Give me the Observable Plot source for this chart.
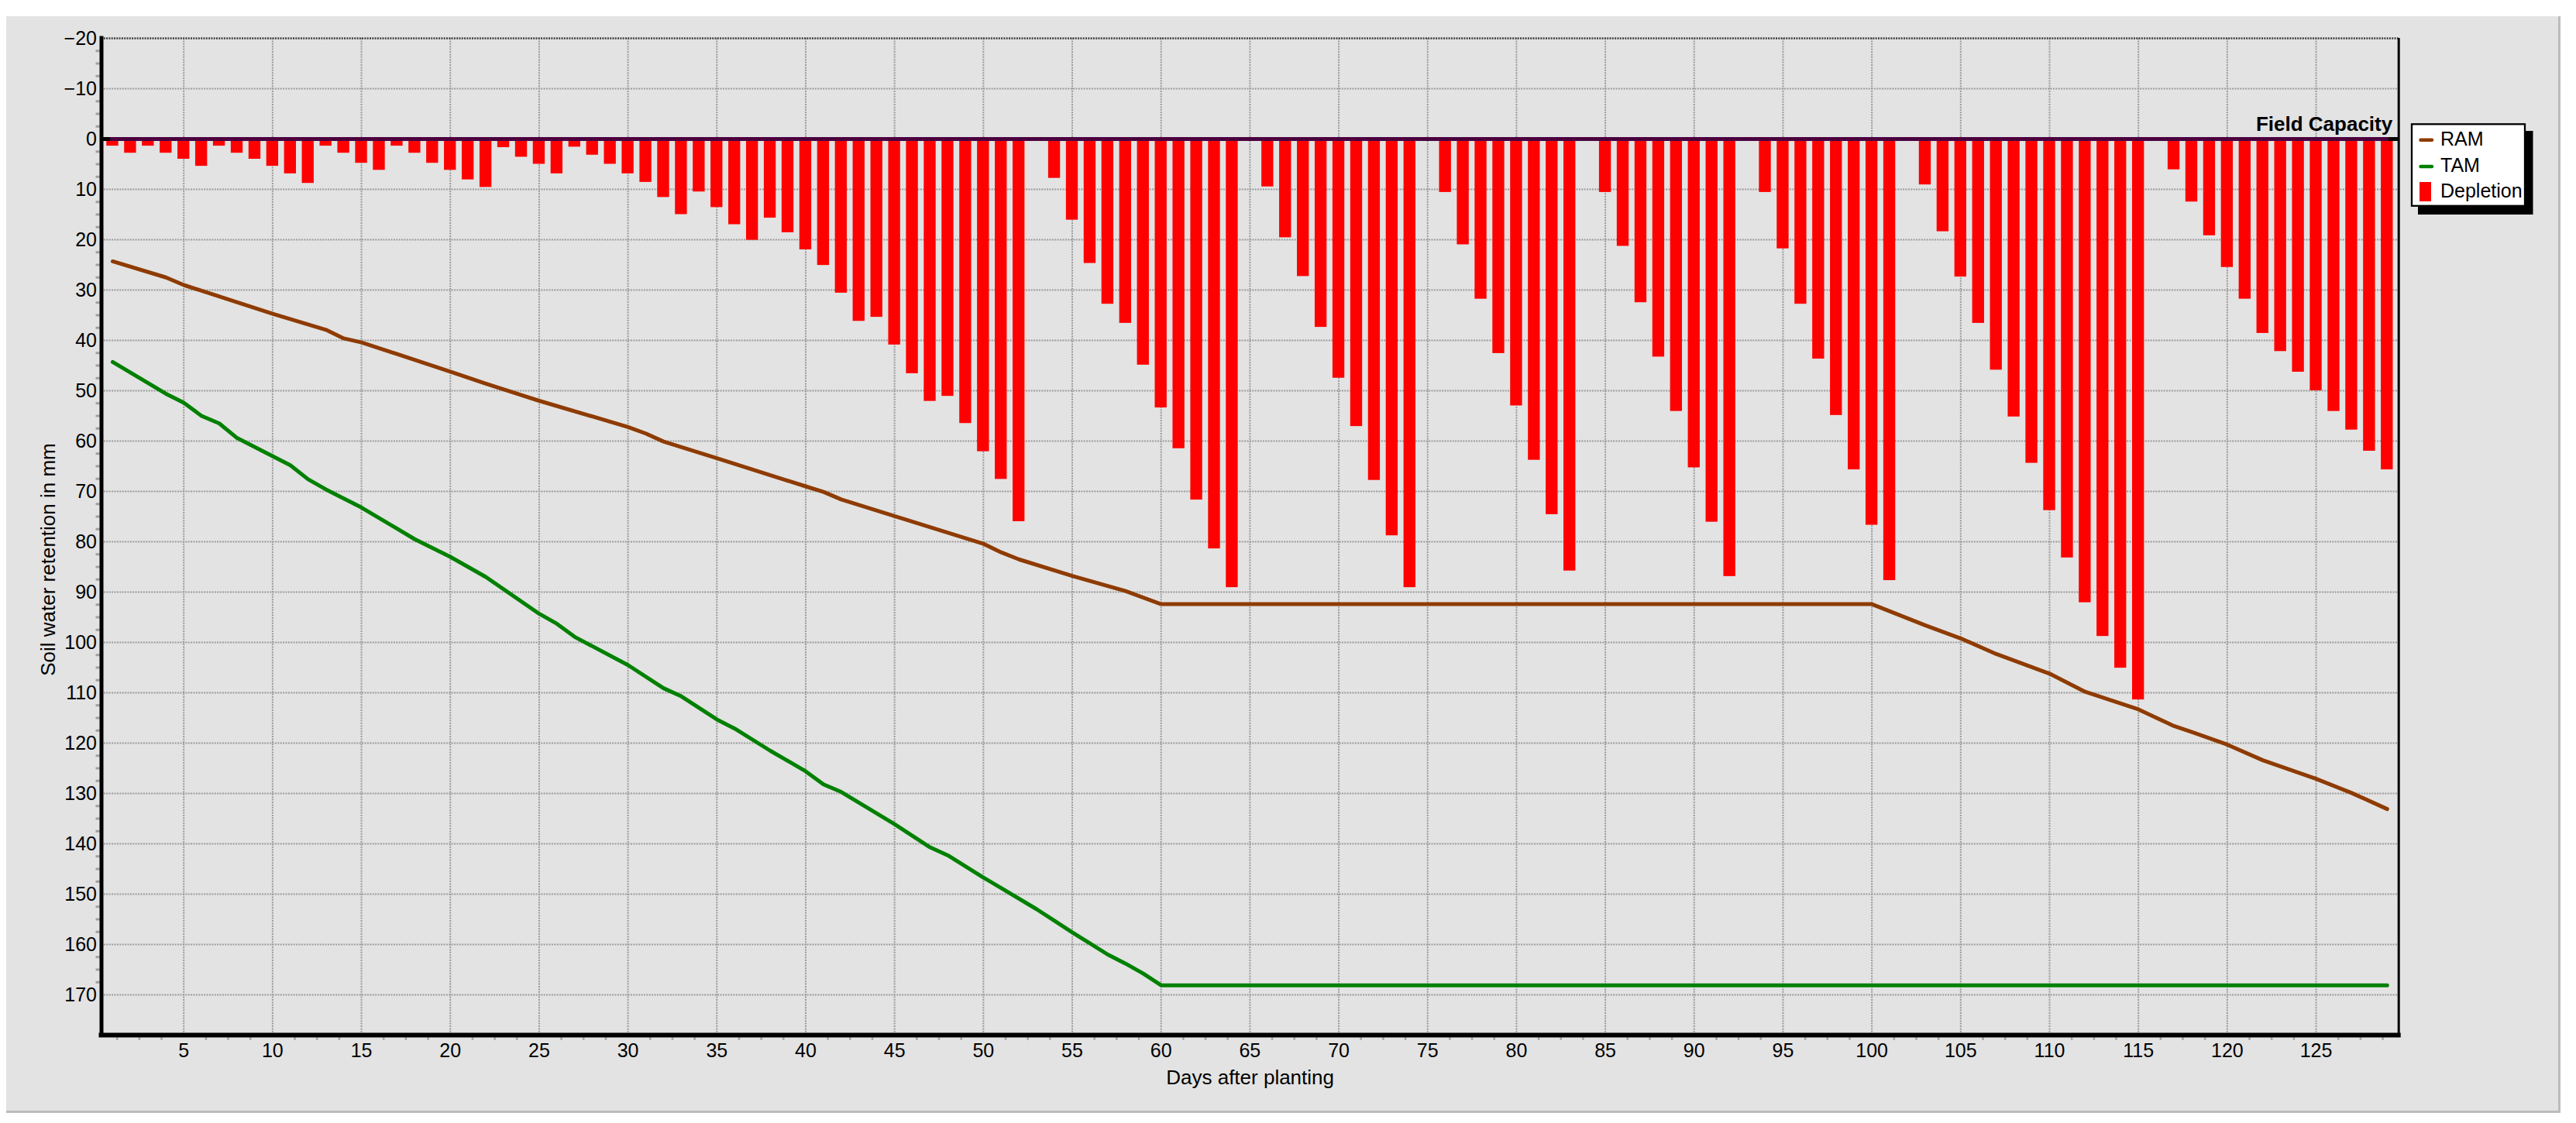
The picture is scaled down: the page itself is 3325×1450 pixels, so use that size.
<!DOCTYPE html>
<html>
<head>
<meta charset="utf-8">
<script src="https://cdn.jsdelivr.net/npm/d3@7"></script>
<script src="https://cdn.jsdelivr.net/npm/@observablehq/plot@0.6"></script>
<style>
  html, body { margin: 0; padding: 0; background: #ffffff; }
  #wrap { position: relative; width: 3325px; height: 1450px; overflow: hidden; }
  #panel { position: absolute; left: 8px; top: 21px; width: 3294px; height: 1413px;
           background: #e3e3e3; border-right: 3px solid #bcbcbc; border-bottom: 3px solid #bcbcbc; }
  #chart { position: absolute; left: 0; top: 0; }
</style>
</head>
<body>
<div id="wrap"><div id="panel"></div><div id="chart"></div></div>
<script>
// ---- data ----
// daily depletion (mm), day 1 .. day 129
const depletion = [
  1.4, 2.8, 1.4, 2.8, 4.0, 5.4, 1.4, 2.8, 4.0, 5.4,
  6.9, 8.8, 1.4, 2.8, 4.8, 6.2, 1.4, 2.8, 4.8, 6.2,
  8.1, 9.6, 1.7, 3.6, 5.0, 6.9, 1.6, 3.2, 5.0, 6.9,
  8.6, 11.6, 15.0, 10.5, 13.6, 17.0, 20.1, 15.7, 18.6, 22.0,
  25.1, 30.6, 36.2, 35.4, 40.9, 46.6, 52.1, 51.1, 56.5, 62.1,
  67.6, 76.0, 0, 7.8, 16.1, 24.7, 32.8, 36.6, 44.9, 53.4,
  61.5, 71.7, 81.4, 89.1, 0, 9.5, 19.6, 27.3, 37.4, 47.5,
  57.1, 67.8, 78.8, 89.1, 0, 10.6, 21.0, 31.8, 42.6, 53.0,
  63.8, 74.6, 85.8, 0, 10.6, 21.3, 32.5, 43.3, 54.1, 65.3,
  76.1, 86.9, 0, 10.6, 21.8, 32.8, 43.7, 54.9, 65.7, 76.7,
  87.7, 0, 9.1, 18.4, 27.4, 36.6, 45.9, 55.2, 64.4, 73.8,
  83.2, 92.1, 98.8, 105.1, 111.4, 0, 6.1, 12.5, 19.2, 25.5,
  31.8, 38.6, 42.2, 46.3, 50.0, 54.1, 57.8, 62.0, 65.7
];

// RAM (readily available moisture) line
const ramDays   = [1, 4, 5, 10, 13, 14, 15, 20, 22, 25, 30, 31, 32, 35, 40, 41, 42, 45, 50, 51,
                   52, 55, 58, 60, 100, 103, 105, 107, 110, 112, 115, 117, 118, 120, 122, 125, 127, 129];
const ramValues = [24.3, 27.5, 29.0, 34.7, 37.9, 39.6, 40.4, 46.2, 48.6, 52.0, 57.2, 58.5, 60.1, 63.4, 69.0, 70.1, 71.6, 74.9, 80.4, 82.1,
                   83.5, 86.8, 89.8, 92.4, 92.4, 96.6, 99.2, 102.3, 106.2, 109.8, 113.3, 116.6, 117.8, 120.3, 123.4, 127.1, 129.9, 133.1];

// TAM (total available moisture) line
const tamDays   = [1, 4, 5, 6, 7, 8, 10, 11, 12, 13, 15, 18, 20, 22, 25, 26, 27, 30, 32, 33,
                   35, 36, 38, 40, 41, 42, 45, 47, 48, 50, 51, 53, 54, 55, 56, 57, 58, 59, 60, 129];
const tamValues = [44.3, 50.6, 52.4, 55.0, 56.5, 59.4, 63.0, 64.8, 67.6, 69.6, 73.2, 79.5, 83.0, 87.0, 94.3, 96.3, 98.9, 104.5, 109.1, 110.7,
                   115.3, 117.1, 121.5, 125.6, 128.2, 129.7, 136.1, 140.7, 142.3, 146.7, 148.8, 153.0, 155.3, 157.6, 159.8, 162.0, 163.8, 165.8, 168.1, 168.1];

const xTicks = [5, 10, 15, 20, 25, 30, 35, 40, 45, 50, 55, 60, 65, 70, 75, 80, 85, 90, 95, 100, 105, 110, 115, 120, 125];
const yTicks = [-20, -10, 0, 10, 20, 30, 40, 50, 60, 70, 80, 90, 100, 110, 120, 130, 140, 150, 160, 170];
const seriesNames  = ["RAM", "TAM", "Depletion"];
const seriesColors = ["#8e3b00", "#008000", "#ff0000"];
const fieldCapacityLabel = "Field Capacity";
const xTitle = "Days after planting";
const yTitle = "Soil water retention in mm";

// ---- build tables for the library ----
const bars = depletion.map((v, i) => ({day: i + 1, value: v}));
const ram = ramDays.map((d, i) => ({day: d, value: ramValues[i]}));
const tam = tamDays.map((d, i) => ({day: d, value: tamValues[i]}));

const W = 3325, H = 1450;
const mLeft = 130.5, mRight = 229.3, mTop = 49, mBottom = 114;
const xDomain = [0.37, 129.65];
const yDomain = [-20, 178];
const yGrid = yTicks.filter(v => v !== 0 && v !== yDomain[0]);
const yMinor = d3.range(-17.5, 170, 2.5).filter(v => v % 10 !== 0);
const xMinor = d3.range(1.25, 129.5, 1.25).filter(v => v % 5 !== 0);
const halfBar = 0.335;
const grid = {stroke: "#9a9a9a", strokeOpacity: 1, strokeWidth: 2, strokeDasharray: "2,1.4"};
const FONT = "'Liberation Sans', Arial, sans-serif";

const plot = Plot.plot({
  width: W,
  height: H,
  marginLeft: mLeft,
  marginRight: mRight,
  marginTop: mTop,
  marginBottom: mBottom,
  x: {domain: xDomain, nice: false},
  y: {domain: yDomain, reverse: true, nice: false},
  style: {background: "transparent", fontFamily: FONT, fontSize: "25px", color: "#000"},
  marks: [
    Plot.gridY({ticks: yGrid, ...grid}),
    Plot.gridX({ticks: xTicks, ...grid}),
    Plot.ruleY([yDomain[0]], {stroke: "#3c3c3c", strokeWidth: 2.5, strokeDasharray: "2,1.3"}),
    Plot.rectY(bars, {x1: d => d.day - halfBar, x2: d => d.day + halfBar, y1: 0, y2: "value", fill: seriesColors[2]}),
    Plot.line(ram, {x: "day", y: "value", stroke: seriesColors[0], strokeWidth: 5, strokeLinecap: "round", strokeLinejoin: "round"}),
    Plot.line(tam, {x: "day", y: "value", stroke: seriesColors[1], strokeWidth: 5, strokeLinecap: "round", strokeLinejoin: "round"}),
    Plot.ruleY([0], {stroke: "#000", strokeWidth: 5}),
    Plot.ruleY([0], {stroke: "#4b003f", strokeWidth: 5, insetLeft: 11.5, insetRight: 12.7}),
    Plot.axisY({ticks: yMinor, tickSize: 7, stroke: "#a0a0a0", strokeWidth: 3, text: null, label: null}),
    Plot.axisX({ticks: xMinor, tickSize: 7, stroke: "#a8a8a8", strokeWidth: 2.5, text: null, label: null}),
    Plot.ruleX([xDomain[0]], {stroke: "#000", strokeWidth: 5, strokeLinecap: "square"}),
    Plot.ruleX([xDomain[1]], {stroke: "#000", strokeWidth: 3}),
    Plot.ruleY([yDomain[1]], {stroke: "#000", strokeWidth: 6, strokeLinecap: "square"}),
    Plot.axisY({ticks: yTicks, tickSize: 0, tickPadding: 6, label: null, fontSize: 25}),
    Plot.axisX({ticks: xTicks, tickSize: 0, tickPadding: 11, label: null, fontSize: 25}),
    Plot.text([fieldCapacityLabel], {x: xDomain[1], y: 0, text: d => d, textAnchor: "end", lineAnchor: "bottom",
      dx: -8, dy: -11, fontWeight: "bold", fontSize: 26}),
    Plot.text([xTitle], {frameAnchor: "bottom", text: d => d, lineAnchor: "bottom", dy: 63, fontSize: 26})
  ]
});

document.getElementById("chart").appendChild(plot);

const svg = d3.select(plot);

// ---- y axis title ----
svg.append("text")
  .attr("transform", `translate(63, ${(mTop + H - mBottom) / 2 + 30}) rotate(-90)`)
  .attr("text-anchor", "middle")
  .attr("dy", "0.32em")
  .attr("font-family", FONT)
  .attr("font-size", 26)
  .attr("fill", "#000")
  .text(yTitle);

// ---- legend (drawn into the same SVG) ----
const lg = svg.append("g")
  .attr("font-family", FONT).attr("font-size", 25).attr("text-anchor", "start");
lg.append("rect").attr("x", 3121).attr("y", 169).attr("width", 148.5).attr("height", 108).attr("fill", "#000");
lg.append("rect").attr("x", 3113).attr("y", 160.3).attr("width", 146).attr("height", 105.5)
  .attr("fill", "#fff").attr("stroke", "#000").attr("stroke-width", 2.3);
const rows = [180.7, 215, 247.5];
seriesNames.forEach((name, i) => {
  const cy = rows[i];
  if (i < 2) {
    lg.append("line").attr("x1", 3124.5).attr("x2", 3139).attr("y1", cy).attr("y2", cy)
      .attr("stroke", seriesColors[i]).attr("stroke-width", 4.5).attr("stroke-linecap", "round");
  } else {
    lg.append("rect").attr("x", 3123).attr("y", cy - 12.5).attr("width", 15).attr("height", 25).attr("fill", seriesColors[i]);
  }
  lg.append("text").attr("x", 3150).attr("y", cy + 7).attr("fill", "#000").attr("text-anchor", "start").text(name);
});
</script>
</body>
</html>
